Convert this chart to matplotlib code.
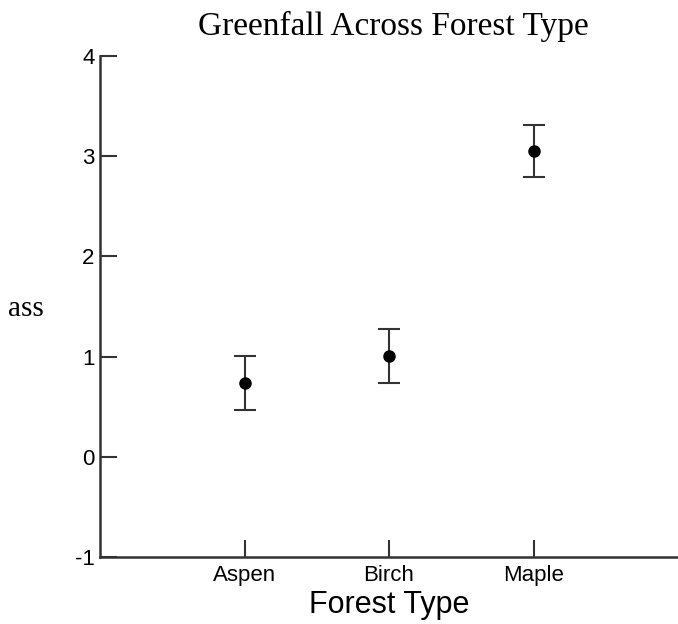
import matplotlib.pyplot as plt
import numpy as np

# values
forest_types = ["Aspen", "Birch", "Maple"]
mean_mass = [0.74, 1.01, 3.05]
std_err = [0.27, 0.27, 0.26]
y_ticks = [-1, 0, 1, 2, 3, 4]

fig = plt.figure(figsize=(6.78, 6.24), dpi=100)
ax = fig.add_axes([100 / 678, 1 - 557 / 624, 578 / 678, 501 / 624])

x = np.arange(1, len(forest_types) + 1)
ax.errorbar(x, mean_mass, yerr=std_err, fmt="o", color="black", ecolor="#333333",
            markersize=8, capsize=8, elinewidth=1.5, capthick=1.5)

ax.set_xlim(0, 4)
ax.set_ylim(-1, 4)
ax.set_xticks(x)
ax.set_xticklabels(forest_types, family="Liberation Sans", fontsize=16)
ax.set_yticks(y_ticks)
ax.set_yticklabels([str(t) for t in y_ticks], family="Liberation Sans", fontsize=16)
ax.tick_params(direction="in", length=12, width=1.5, color="#333333", pad=6)
ax.tick_params(axis="y", pad=4)

for side in ["top", "right"]:
    ax.spines[side].set_visible(False)
for side in ["left", "bottom"]:
    ax.spines[side].set_linewidth(1.8)
    ax.spines[side].set_color("#333333")

ax.set_xlabel("Forest Type", family="Liberation Sans", fontsize=22, labelpad=3)
# y label is cropped in the reference, only its tail is visible
fig.text(44 / 678, 1 - 309 / 624, "ass", family="Liberation Serif", fontsize=21,
         ha="right", va="center")
fig.text(393 / 678, 1 - 26 / 624, "Greenfall Across Forest Type",
         family="Liberation Serif", fontsize=24, ha="center", va="center")

fig.savefig("out.png", dpi=100)
